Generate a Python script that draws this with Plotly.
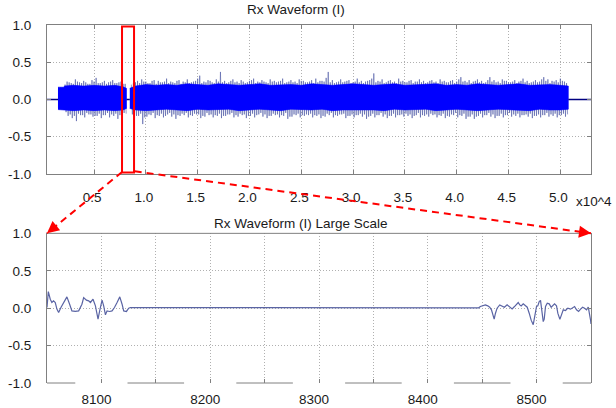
import plotly.graph_objects as go

# ---------------- data ----------------
# top panel (x in units of 10^4 samples)
flat_x = [0.046, 0.152, None, 0.813, 0.845, None, 5.077, 5.296]
flat_y = [0.0, 0.0, None, 0.0, 0.0, None, 0.0, 0.0]

# major spike extremes, read on a 0.04 grid starting at 0.16
spike_hi = [0.165, 0.165, 0.24, 0.22, 0.27, 0.23, 0.25, 0.21, 0.26, 0.29,
            0.22, 0.25, 0.23, 0.26, 0.22, 0.24, 0.21, None, 0.22, 0.25,
            0.27, 0.24, 0.22, 0.26, 0.25, 0.23, 0.28, 0.24, 0.22, 0.26,
            0.24, 0.27, 0.23, 0.25, 0.32, 0.24, 0.26, 0.23, 0.27, 0.37,
            0.25, 0.23, 0.27, 0.24, 0.26, 0.22, 0.25, 0.28, 0.24, 0.26,
            0.23, 0.27, 0.25, 0.24, 0.28, 0.23, 0.26, 0.24, 0.27, 0.25,
            0.23, 0.26, 0.28, 0.25, 0.24, 0.37, 0.26, 0.23, 0.27, 0.24,
            0.26, 0.23, 0.28, 0.25, 0.24, 0.26, 0.35, 0.25, 0.27, 0.23,
            0.26, 0.24, 0.28, 0.25, 0.23, 0.26, 0.24, 0.27, 0.25, 0.23,
            0.26, 0.24, 0.27, 0.25, 0.23, 0.26, 0.24, 0.30, 0.25, 0.26,
            0.24, 0.27, 0.25, 0.23, 0.30, 0.26, 0.24, 0.27, 0.25, 0.23,
            0.26, 0.24, 0.28, 0.25, 0.23, 0.26, 0.24, 0.30, 0.27, 0.25,
            0.26, 0.28, 0.24]
spike_lo = [-0.135, -0.135, -0.22, -0.25, -0.29, -0.21, -0.24, -0.20, -0.23, -0.22,
            -0.25, -0.21, -0.24, -0.22, -0.26, -0.20, -0.19, None, -0.24, -0.22,
            -0.33, -0.23, -0.21, -0.25, -0.22, -0.24, -0.20, -0.23, -0.26, -0.22,
            -0.21, -0.24, -0.22, -0.20, -0.25, -0.23, -0.21, -0.24, -0.22, -0.25,
            -0.22, -0.20, -0.24, -0.23, -0.21, -0.25, -0.22, -0.24, -0.20, -0.23,
            -0.25, -0.22, -0.21, -0.24, -0.22, -0.26, -0.23, -0.21, -0.24, -0.22,
            -0.21, -0.24, -0.22, -0.25, -0.23, -0.21, -0.24, -0.22, -0.20, -0.25,
            -0.22, -0.24, -0.21, -0.23, -0.26, -0.22, -0.24, -0.21, -0.23, -0.25,
            -0.22, -0.24, -0.21, -0.23, -0.22, -0.25, -0.21, -0.24, -0.22, -0.23,
            -0.21, -0.24, -0.22, -0.25, -0.23, -0.21, -0.24, -0.22, -0.26, -0.23,
            -0.26, -0.22, -0.24, -0.21, -0.23, -0.25, -0.22, -0.24, -0.21, -0.23,
            -0.22, -0.24, -0.21, -0.23, -0.25, -0.22, -0.24, -0.21, -0.23, -0.22,
            -0.24, -0.21, -0.23]
# minor spike extremes, read on the same grid shifted by 0.02
minor_hi = [0.165, 0.20, 0.23, 0.21, 0.24, 0.22, 0.23, 0.21, 0.24, 0.22,
            0.23, 0.21, 0.24, 0.22, 0.23, 0.21, None, 0.20, 0.23, 0.22,
            0.24, 0.22, 0.25, 0.21, 0.23, 0.24, 0.22, 0.23, 0.25, 0.21,
            0.23, 0.22, 0.24, 0.28, 0.22, 0.23, 0.25, 0.22, 0.24, 0.23,
            0.22, 0.25, 0.23, 0.22, 0.24, 0.23, 0.26, 0.22, 0.23, 0.24,
            0.22, 0.24, 0.23, 0.25, 0.22, 0.24, 0.23, 0.22, 0.25, 0.23,
            0.24, 0.22, 0.23, 0.25, 0.29, 0.23, 0.22, 0.24, 0.23, 0.25,
            0.22, 0.24, 0.23, 0.22, 0.25, 0.28, 0.23, 0.24, 0.22, 0.25,
            0.23, 0.22, 0.24, 0.23, 0.25, 0.22, 0.24, 0.23, 0.22, 0.25,
            0.23, 0.22, 0.24, 0.23, 0.25, 0.22, 0.27, 0.24, 0.23, 0.22,
            0.25, 0.23, 0.22, 0.26, 0.24, 0.23, 0.22, 0.25, 0.23, 0.24,
            0.22, 0.25, 0.23, 0.22, 0.24, 0.23, 0.27, 0.25, 0.22, 0.24,
            0.23, 0.25, 0.22]
minor_lo = [-0.135, -0.17, -0.20, -0.22, -0.19, -0.21, -0.18, -0.20, -0.22, -0.19,
            -0.21, -0.18, -0.20, -0.19, -0.21, -0.18, None, -0.20, -0.22, -0.19,
            -0.24, -0.20, -0.18, -0.21, -0.19, -0.22, -0.18, -0.20, -0.21, -0.19,
            -0.18, -0.21, -0.19, -0.20, -0.22, -0.18, -0.20, -0.21, -0.19, -0.22,
            -0.20, -0.18, -0.21, -0.19, -0.20, -0.22, -0.19, -0.21, -0.18, -0.20,
            -0.22, -0.19, -0.20, -0.21, -0.18, -0.23, -0.20, -0.19, -0.21, -0.20,
            -0.19, -0.21, -0.20, -0.22, -0.19, -0.18, -0.21, -0.20, -0.19, -0.22,
            -0.20, -0.21, -0.19, -0.20, -0.23, -0.19, -0.21, -0.18, -0.20, -0.22,
            -0.19, -0.21, -0.20, -0.19, -0.20, -0.22, -0.18, -0.21, -0.20, -0.19,
            -0.20, -0.21, -0.19, -0.22, -0.20, -0.18, -0.21, -0.19, -0.23, -0.20,
            -0.23, -0.19, -0.21, -0.18, -0.20, -0.22, -0.19, -0.21, -0.18, -0.20,
            -0.19, -0.21, -0.20, -0.19, -0.22, -0.20, -0.21, -0.18, -0.20, -0.19,
            -0.21, -0.19, -0.20]
spike_x = [round(0.16 + 0.04 * i, 2) for i in range(len(spike_hi))]

# dense core of the signal
core1_x = [0.152, 0.21, 0.215, 0.30, 0.40, 0.50, 0.60, 0.70, 0.78, 0.813]
core1_hi = [0.165, 0.165, 0.18, 0.19, 0.18, 0.19, 0.18, 0.19, 0.17, 0.15]
core1_lo = [-0.135, -0.135, -0.14, -0.15, -0.14, -0.15, -0.14, -0.15, -0.14, -0.12]
core2_x = [0.845, 0.90, 1.0, 1.1, 1.2, 1.3, 1.4, 1.5, 1.6, 1.7, 1.8, 1.9, 2.0,
           2.1, 2.2, 2.3, 2.4, 2.5, 2.6, 2.7, 2.8, 2.9, 3.0, 3.1, 3.2, 3.3, 3.4,
           3.5, 3.6, 3.7, 3.8, 3.9, 4.0, 4.1, 4.2, 4.3, 4.4, 4.5, 4.6, 4.7, 4.8,
           4.9, 5.0, 5.077]
core2_hi = [0.15, 0.18, 0.20, 0.19, 0.20, 0.19, 0.21, 0.20, 0.19, 0.21, 0.20,
            0.19, 0.20, 0.21, 0.19, 0.20, 0.20, 0.19, 0.21, 0.20, 0.19, 0.20,
            0.21, 0.20, 0.19, 0.20, 0.21, 0.19, 0.20, 0.20, 0.21, 0.19, 0.20,
            0.19, 0.21, 0.20, 0.19, 0.20, 0.21, 0.19, 0.20, 0.20, 0.19, 0.18]
core2_lo = [-0.12, -0.14, -0.15, -0.14, -0.13, -0.14, -0.15, -0.13, -0.14,
            -0.14, -0.13, -0.15, -0.14, -0.13, -0.14, -0.15, -0.13, -0.14,
            -0.14, -0.13, -0.15, -0.14, -0.13, -0.14, -0.14, -0.15, -0.13,
            -0.14, -0.14, -0.13, -0.15, -0.14, -0.13, -0.14, -0.15, -0.14,
            -0.13, -0.14, -0.14, -0.15, -0.13, -0.14, -0.14, -0.13]

# bottom panel (zoomed, x in samples)
zoom_x = [8050, 8051.2, 8053, 8054.5, 8056, 8057.6, 8059.1, 8060.7, 8062.8, 8065.3,
          8068.3, 8070.8, 8072.9, 8076, 8079.1, 8082.1, 8083.7, 8086.2, 8088.3, 8089.9,
          8092.3, 8094.5, 8096, 8096.9, 8098.4, 8100.6, 8102.1, 8103.7, 8105.2, 8107.6,
          8109.8, 8112, 8114.4, 8116.9, 8119, 8120.5, 8123, 8125.1, 8126.7,
          8446.8, 8448.3, 8450.5, 8452.9, 8455.1, 8456.9, 8458.5, 8460, 8461, 8462.2,
          8463.7, 8466.1, 8468.3, 8470.4, 8472.9, 8475.3, 8477.5, 8479.7, 8481.5, 8483.1,
          8484.5, 8485.8, 8487.7, 8489.5, 8491.4, 8493.2, 8495, 8496.9, 8498.1, 8499.9,
          8501.1, 8502.4, 8503.6, 8504.8, 8506.1, 8507, 8508.2, 8509.8, 8511.6, 8513.4,
          8514.6, 8516.5, 8518.3, 8519.5, 8521.4, 8522.7, 8524.5, 8526.6, 8528.7, 8531.2,
          8533, 8534.9, 8536.7, 8538.6, 8540.4, 8542.3, 8544.1, 8545.9, 8547.5, 8548.7,
          8549.6, 8550]
zoom_y = [0.009, 0.222, 0.12, 0.076, 0.098, 0.076, -0.013, -0.058, 0.009, 0.076,
          0.151, 0.053, -0.036, -0.044, -0.036, 0.053, 0.142, 0.107, 0.098, 0.076,
          0.12, 0.031, -0.124, -0.147, -0.036, 0.107, 0.031, -0.089, -0.036, -0.044,
          -0.036, 0.009, 0.076, 0.151, 0.053, -0.036, -0.044, 0.0, 0.009,
          0.005, 0.022, 0.036, 0.044, 0.031, 0.013, -0.022, -0.111, -0.147, -0.067,
          0.0, 0.044, 0.031, 0.013, 0.044, 0.022, -0.009, 0.022, 0.058, 0.076,
          0.044, 0.031, 0.058, 0.031, 0.013, -0.067, -0.16, -0.22, -0.111, 0.022,
          0.031, 0.089, 0.105, -0.022, -0.18, -0.147, 0.022, 0.067, 0.058, 0.013,
          0.031, 0.058, 0.031, -0.067, -0.15, -0.089, -0.022, -0.031, 0.0, -0.013,
          0.0, 0.022, -0.022, -0.044, -0.013, 0.013, 0.0, -0.022, 0.013, -0.067,
          -0.16, -0.21]

top_ticks = [0.5, 1.0, 1.5, 2.0, 2.5, 3.0, 3.5, 4.0, 4.5, 5.0]
top_ticklabels = ["0.5", "1.0", "1.5", "2.0", "2.5", "3.0", "3.5", "4.0", "4.5", "5.0"]
bot_ticks = [8100, 8150, 8200, 8250, 8300, 8350, 8400, 8450, 8500]
bot_ticklabels = ["8100", "", "8200", "", "8300", "", "8400", "", "8500"]
y_ticks = [-1.0, -0.5, 0.0, 0.5, 1.0]
y_ticklabels = ["-1.0", "-0.5", "0.0", "0.5", "1.0"]
zoom_box = [0.77, 0.886]

# ---------------- figure ----------------
fig = go.Figure()

# spikes (zig-zag between upper and lower extremes)
zx, zy = [], []
for xv, h, l, mh, ml in zip(spike_x, spike_hi, spike_lo, minor_hi, minor_lo):
    if h is None:
        zx.append(None); zy.append(None)
    else:
        zx += [xv, xv + 0.01]
        zy += [h, l]
    if mh is None:
        zx.append(None); zy.append(None)
    else:
        zx += [xv + 0.02, xv + 0.03]
        zy += [mh, ml]
fig.add_trace(go.Scatter(x=zx, y=zy, mode="lines", xaxis="x", yaxis="y",
                         line=dict(color="#4c58a4", width=0.6), hoverinfo="skip"))

for cx, ch, cl in [(core1_x, core1_hi, core1_lo), (core2_x, core2_hi, core2_lo)]:
    fig.add_trace(go.Scatter(x=cx + cx[::-1], y=ch + cl[::-1], mode="lines",
                             fill="toself", fillcolor="#0000ff",
                             line=dict(color="#0000ff", width=0.6),
                             xaxis="x", yaxis="y", hoverinfo="skip"))

fig.add_trace(go.Scatter(x=flat_x, y=flat_y, mode="lines", xaxis="x", yaxis="y",
                         line=dict(color="#000080", width=1.5), hoverinfo="skip"))

fig.add_trace(go.Scatter(x=zoom_x, y=zoom_y, mode="lines", xaxis="x2", yaxis="y2",
                         line=dict(color="#5a64a4", width=1.2), hoverinfo="skip"))

FRAME = "#808080"
GRID = "#b0b0b0"
FONT = dict(family="Liberation Sans, Arial, sans-serif", size=13.5, color="#1a1a1a")

common_x = dict(showgrid=True, gridcolor=GRID, griddash="1px,2px", gridwidth=1,
                zeroline=False, ticks="inside", ticklen=4, tickcolor=FRAME,
                tickfont=FONT, automargin=False)
common_y = dict(range=[-1, 1], tickvals=y_ticks, ticktext=y_ticklabels,
                showgrid=True, gridcolor=GRID, griddash="1px,2px", gridwidth=1,
                zeroline=False, ticks="inside", ticklen=4, tickcolor=FRAME,
                showline=True, linecolor=FRAME, linewidth=1, mirror="ticks",
                tickfont=FONT, ticklabelstandoff=12, automargin=False)

fig.update_layout(
    width=616, height=408,
    margin=dict(l=47, r=25, t=25, b=25, autoexpand=False),
    paper_bgcolor="white", plot_bgcolor="white",
    showlegend=False, font=FONT,
    xaxis=dict(domain=[0, 1], anchor="y", range=[0.046, 5.296],
               tickvals=top_ticks, ticktext=top_ticklabels,
               showline=True, linecolor=FRAME, linewidth=1, mirror="ticks",
               ticklabelshift=-2, ticklabelstandoff=11, **common_x),
    yaxis=dict(domain=[0.5838, 1], anchor="x", **common_y),
    xaxis2=dict(domain=[0, 1], anchor="y2", range=[8050, 8550],
                tickvals=bot_ticks, ticktext=bot_ticklabels,
                showline=False, ticklabelshift=-5, ticklabelstandoff=6,
                **common_x),
    yaxis2=dict(domain=[0, 0.418], anchor="x2", **common_y),
)

shapes = []
# bottom panel: top frame line
shapes.append(dict(type="line", xref="x2 domain", yref="y2 domain", x0=0, x1=1, y0=1, y1=1,
                   line=dict(color=FRAME, width=1)))
# bottom panel: bottom frame line interrupted under the tick labels
gap = 24
edges = [8050]
for t in [8100, 8200, 8300, 8400, 8500]:
    edges += [t - gap, t + gap]
edges.append(8550)
for a, b in zip(edges[0::2], edges[1::2]):
    shapes.append(dict(type="line", xref="x2", yref="y2 domain", x0=a, x1=b, y0=0, y1=0,
                       line=dict(color=FRAME, width=1)))
# zoom box
shapes.append(dict(type="rect", xref="x", yref="y", x0=zoom_box[0], x1=zoom_box[1],
                   y0=-0.98, y1=0.98, line=dict(color="#ff0000", width=2)))
# dashed connector lines (paper coords)
arrows = [((0.1379, 0.5894), (0.0, 0.4182), (9.3, -7.6)),
          ((0.1612, 0.5913), (1.0, 0.4182), (-11.9, -1.6))]
for tail, head, off in arrows:
    shapes.append(dict(type="line", xref="paper", yref="paper",
                       x0=tail[0], y0=tail[1], x1=head[0], y1=head[1],
                       line=dict(color="#ff0000", width=2, dash="7px,5px")))
fig.update_layout(shapes=shapes)

annotations = [
    dict(text="Rx Waveform (I)", x=0.4586, y=1.0433, xref="paper", yref="paper",
         showarrow=False, xanchor="center", yanchor="middle", font=FONT),
    dict(text="Rx Waveform (I) Large Scale", x=0.466, y=0.4455, xref="paper", yref="paper",
         showarrow=False, xanchor="center", yanchor="middle", font=FONT),
    dict(text="x10^4", x=1.0423, y=0.5056, xref="paper", yref="paper",
         showarrow=False, xanchor="right", yanchor="middle", font=FONT),
]
for tail, head, off in arrows:
    annotations.append(dict(text="", x=head[0], y=head[1], xref="paper", yref="paper",
                            showarrow=True, ax=off[0], ay=off[1], arrowhead=2,
                            arrowsize=1.2, arrowwidth=2, arrowcolor="#ff0000", standoff=0))
fig.update_layout(annotations=annotations)

# remove the browser's default 8px body margin so the figure sits at the page origin
fig.write_html("out.html", config={"displayModeBar": False},
               post_script="document.body.style.margin='0px';document.body.style.overflow='hidden';")
